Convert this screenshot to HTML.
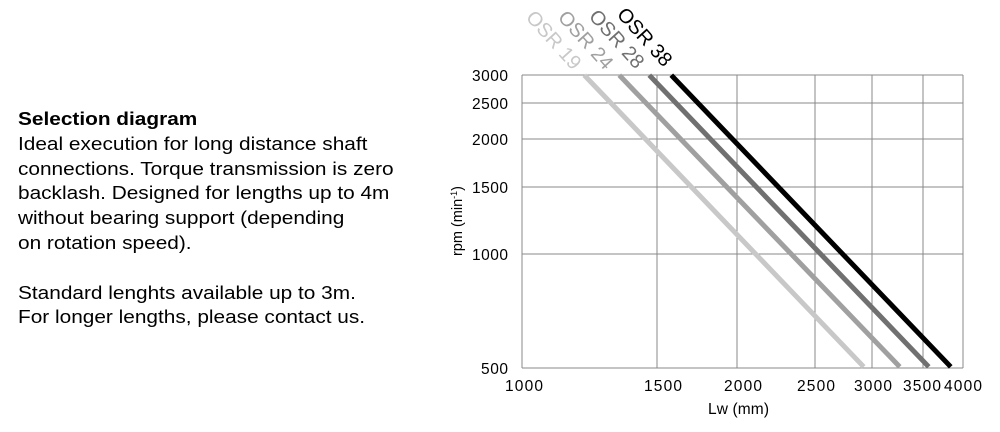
<!DOCTYPE html>
<html><head><style>
body{margin:0;width:1000px;height:432px;background:#fff;overflow:hidden;font-family:"Liberation Sans",Arial,sans-serif;}
.txt{position:absolute;left:18px;top:107px;font-size:18.5px;line-height:24.8px;color:#000;transform:scaleX(1.125);transform-origin:0 0;white-space:nowrap;}
</style></head><body>
<div class="txt"><b>Selection diagram</b><br>Ideal execution for long distance shaft<br>connections. Torque transmission is zero<br>backlash. Designed for lengths up to 4m<br>without bearing support (depending<br>on rotation speed).<br><br>Standard lenghts available up to 3m.<br>For longer lengths, please contact us.</div>
<svg width="1000" height="432" style="position:absolute;left:0;top:0" font-family="Liberation Sans, Arial, sans-serif">
<g stroke="#888" stroke-width="1">
<line x1="522" y1="75" x2="963" y2="75"/><line x1="522" y1="103" x2="963" y2="103"/>
<line x1="522" y1="139" x2="963" y2="139"/><line x1="522" y1="187" x2="963" y2="187"/>
<line x1="522" y1="254" x2="963" y2="254"/><line x1="522" y1="368" x2="963" y2="368"/>
<line x1="522" y1="75" x2="522" y2="368"/><line x1="657" y1="75" x2="657" y2="368"/>
<line x1="737" y1="75" x2="737" y2="368"/><line x1="815" y1="75" x2="815" y2="368"/>
<line x1="872" y1="75" x2="872" y2="368"/><line x1="923" y1="75" x2="923" y2="368"/>
<line x1="963" y1="75" x2="963" y2="368"/>
</g>
<g stroke-width="5" stroke-linecap="square">
<line x1="586" y1="77" x2="862" y2="365" stroke="#c8c8c8"/>
<line x1="621" y1="77" x2="898" y2="365" stroke="#a0a0a0"/>
<line x1="651" y1="77" x2="927" y2="365" stroke="#707070"/>
<line x1="673" y1="77" x2="949" y2="365" stroke="#000"/>
</g>
<g font-size="15.5" text-anchor="end" fill="#000">
<text x="508" y="81" textLength="36">3000</text><text x="508" y="109" textLength="36">2500</text><text x="508" y="145" textLength="36">2000</text>
<text x="508" y="193" textLength="36">1500</text><text x="508" y="260" textLength="36">1000</text><text x="508" y="374" textLength="27">500</text>
</g>
<g font-size="15.5" fill="#000">
<text x="505" y="391" textLength="38">1000</text><text x="644" y="391" textLength="38">1500</text><text x="724" y="391" textLength="38">2000</text>
<text x="797" y="391" textLength="38">2500</text><text x="854" y="391" textLength="38">3000</text><text x="903" y="391" textLength="38">3500</text><text x="944" y="391" textLength="38">4000</text>
<text x="708" y="414" textLength="61">Lw (mm)</text>
</g>
<text transform="translate(462,221) rotate(-90)" font-size="14.5" text-anchor="middle">rpm (min<tspan dy="-5" font-size="9">-1</tspan><tspan dy="5">)</tspan></text>
<g font-size="20">
<text transform="translate(525,18) rotate(48)" fill="#c8c8c8">OSR 19</text>
<text transform="translate(557,18) rotate(48)" fill="#a0a0a0">OSR 24</text>
<text transform="translate(588,17) rotate(48)" fill="#707070">OSR 28</text>
<text transform="translate(616,15) rotate(48)" fill="#000">OSR 38</text>
</g>
</svg>
</body></html>
